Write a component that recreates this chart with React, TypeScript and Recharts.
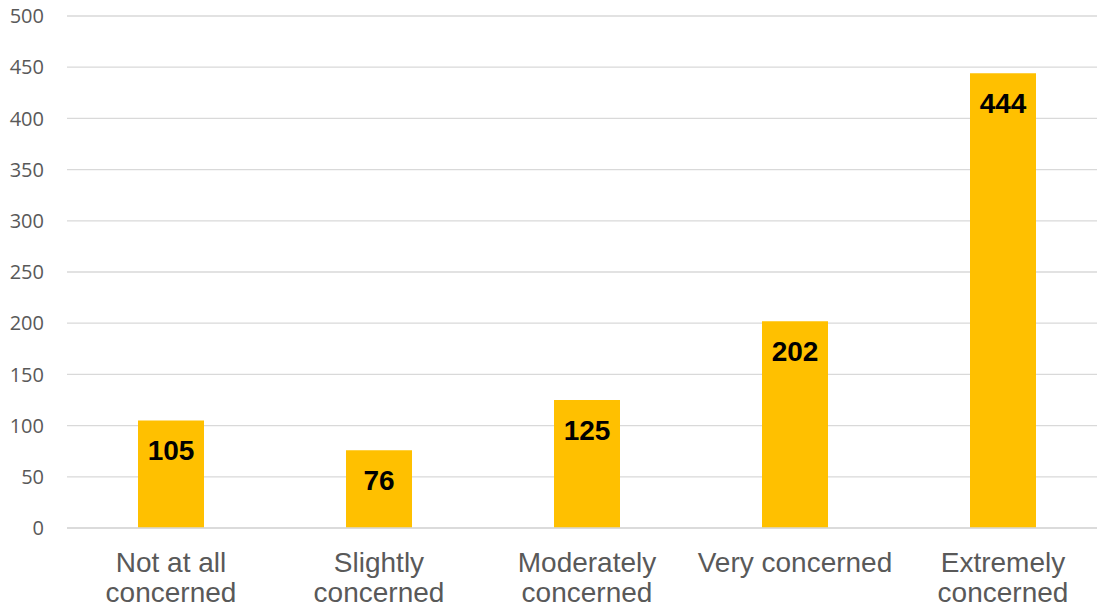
import React from "react";
import { BarChart, Bar, XAxis, YAxis, CartesianGrid, LabelList } from "recharts";

const categories = [
  "Not at all concerned",
  "Slightly concerned",
  "Moderately concerned",
  "Very concerned",
  "Extremely concerned",
];
const categoryLines = [
  ["Not at all", "concerned"],
  ["Slightly", "concerned"],
  ["Moderately", "concerned"],
  ["Very concerned"],
  ["Extremely", "concerned"],
];
const counts = [105, 76, 125, 202, 444];
const yTicks = [0, 50, 100, 150, 200, 250, 300, 350, 400, 450, 500];

const data = categories.map((c, i) => ({ category: c, count: counts[i] }));

const CatTick = (props: any) => {
  const { x, y, payload } = props;
  const idx = categories.indexOf(payload.value);
  const lines = idx >= 0 ? categoryLines[idx] : [payload.value];
  return (
    <g>
      {lines.map((l: string, i: number) => (
        <text
          key={i}
          x={x}
          y={y + 36 + i * 30}
          textAnchor="middle"
          fill="#595959"
          fontFamily="'Liberation Sans', Arial, sans-serif"
          fontSize={28}
        >
          {l}
        </text>
      ))}
    </g>
  );
};

const ValueLabel = (props: any) => {
  const { x, y, width, value } = props;
  return (
    <text
      x={x + width / 2}
      y={y + 30}
      textAnchor="middle"
      dominantBaseline="central"
      fill="#000000"
      fontFamily="'Liberation Sans', Arial, sans-serif"
      fontWeight="bold"
      fontSize={28}
    >
      {value}
    </text>
  );
};

export default function App() {
  return (
    <div
      style={{
        position: "absolute",
        left: 0,
        top: 0,
        width: 1097,
        height: 610,
        overflow: "hidden",
        background: "#fff",
      }}
    >
      <BarChart
        width={1107}
        height={610}
        data={data}
        margin={{ top: 16, right: 0, left: 0, bottom: 2 }}
        barCategoryGap={0}
      >
        <CartesianGrid vertical={false} stroke="#d9d9d9" strokeWidth={1.3} />
        <XAxis
          dataKey="category"
          height={80}
          tickLine={false}
          axisLine={{ stroke: "#d9d9d9", strokeWidth: 1.3 }}
          tick={<CatTick />}
          interval={0}
        />
        <YAxis
          width={67}
          domain={[0, 500]}
          ticks={yTicks}
          tickLine={false}
          axisLine={false}
          tickSize={0}
          tickMargin={23}
          tick={{ fill: "#595959", fontSize: 20, fontFamily: "'Open Sans', sans-serif" }}
        />
        <Bar dataKey="count" fill="#FFC000" barSize={66} isAnimationActive={false}>
          <LabelList dataKey="count" content={<ValueLabel />} />
        </Bar>
      </BarChart>
    </div>
  );
}
